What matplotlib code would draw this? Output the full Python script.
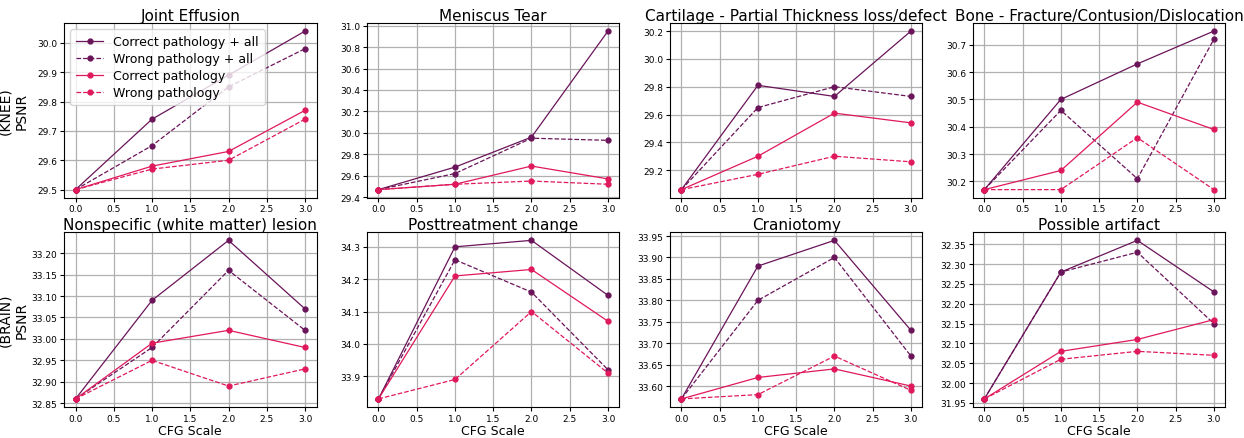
import matplotlib
matplotlib.use("Agg")
import matplotlib.pyplot as plt
from matplotlib.ticker import MultipleLocator

cfg = [0.0, 1.0, 2.0, 3.0]

titles = [
    "Joint Effusion", "Meniscus Tear",
    "Cartilage - Partial Thickness loss/defect",
    "Bone - Fracture/Contusion/Dislocation",
    "Nonspecific (white matter) lesion", "Posttreatment change",
    "Craniotomy", "Possible artifact",
]
ytick_steps = [0.1, 0.2, 0.2, 0.1, 0.05, 0.1, 0.05, 0.05]

# PSNR per pathology: correct+all, wrong+all, correct, wrong
correct_all = [
    [29.50, 29.74, 29.89, 30.04],
    [29.47, 29.68, 29.96, 30.95],
    [29.06, 29.81, 29.73, 30.20],
    [30.17, 30.50, 30.63, 30.75],
    [32.86, 33.09, 33.23, 33.07],
    [33.83, 34.30, 34.32, 34.15],
    [33.57, 33.88, 33.94, 33.73],
    [31.96, 32.28, 32.36, 32.23],
]
wrong_all = [
    [29.50, 29.65, 29.85, 29.98],
    [29.47, 29.62, 29.95, 29.93],
    [29.06, 29.65, 29.80, 29.73],
    [30.17, 30.46, 30.21, 30.72],
    [32.86, 32.98, 33.16, 33.02],
    [33.83, 34.26, 34.16, 33.92],
    [33.57, 33.80, 33.90, 33.67],
    [31.96, 32.28, 32.33, 32.15],
]
correct = [
    [29.50, 29.58, 29.63, 29.77],
    [29.47, 29.52, 29.69, 29.57],
    [29.06, 29.30, 29.61, 29.54],
    [30.17, 30.24, 30.49, 30.39],
    [32.86, 32.99, 33.02, 32.98],
    [33.83, 34.21, 34.23, 34.07],
    [33.57, 33.62, 33.64, 33.60],
    [31.96, 32.08, 32.11, 32.16],
]
wrong = [
    [29.50, 29.57, 29.60, 29.74],
    [29.47, 29.52, 29.55, 29.52],
    [29.06, 29.17, 29.30, 29.26],
    [30.17, 30.17, 30.36, 30.17],
    [32.86, 32.95, 32.89, 32.93],
    [33.83, 33.89, 34.10, 33.91],
    [33.57, 33.58, 33.67, 33.59],
    [31.96, 32.06, 32.08, 32.07],
]

dark = "#6a1459"
pink = "#e0195c"

fig, axes = plt.subplots(2, 4, figsize=(12.44, 4.39), dpi=100)
plt.subplots_adjust(left=0.0515, right=0.985, top=0.945, bottom=0.071,
                    wspace=0.2, hspace=0.2)

for i, ax in enumerate(axes.flat):
    ax.plot(cfg, correct_all[i], "-o", color=dark, lw=0.9, ms=3.5,
            label="Correct pathology + all")
    ax.plot(cfg, wrong_all[i], "--o", color=dark, lw=0.9, ms=3.5,
            label="Wrong pathology + all")
    ax.plot(cfg, correct[i], "-o", color=pink, lw=0.9, ms=3.5,
            label="Correct pathology")
    ax.plot(cfg, wrong[i], "--o", color=pink, lw=0.9, ms=3.5,
            label="Wrong pathology")
    ax.set_title(titles[i], fontsize=11, pad=2)
    ax.grid(True, color="#b0b0b0", lw=0.9)
    ax.tick_params(labelsize=6.5, length=3, pad=2)
    ax.set_xticks([0, 0.5, 1, 1.5, 2, 2.5, 3])
    ax.yaxis.set_major_locator(MultipleLocator(ytick_steps[i]))
    if ytick_steps[i] < 0.1:
        ax.yaxis.set_major_formatter("{x:.2f}")
    else:
        ax.yaxis.set_major_formatter("{x:.1f}")
    if i >= 4:
        ax.set_xlabel("CFG Scale", fontsize=9, labelpad=1)

for ax, name in zip(axes[:, 0], ["KNEE", "BRAIN"]):
    ax.set_ylabel(f"({name})\nPSNR", fontsize=10)
    ax.yaxis.set_label_coords(-0.14, 0.5)

axes[0, 0].legend(loc="upper left", fontsize=9, handlelength=2.2,
                  borderpad=0.45, labelspacing=0.33)

plt.savefig("out.png")
